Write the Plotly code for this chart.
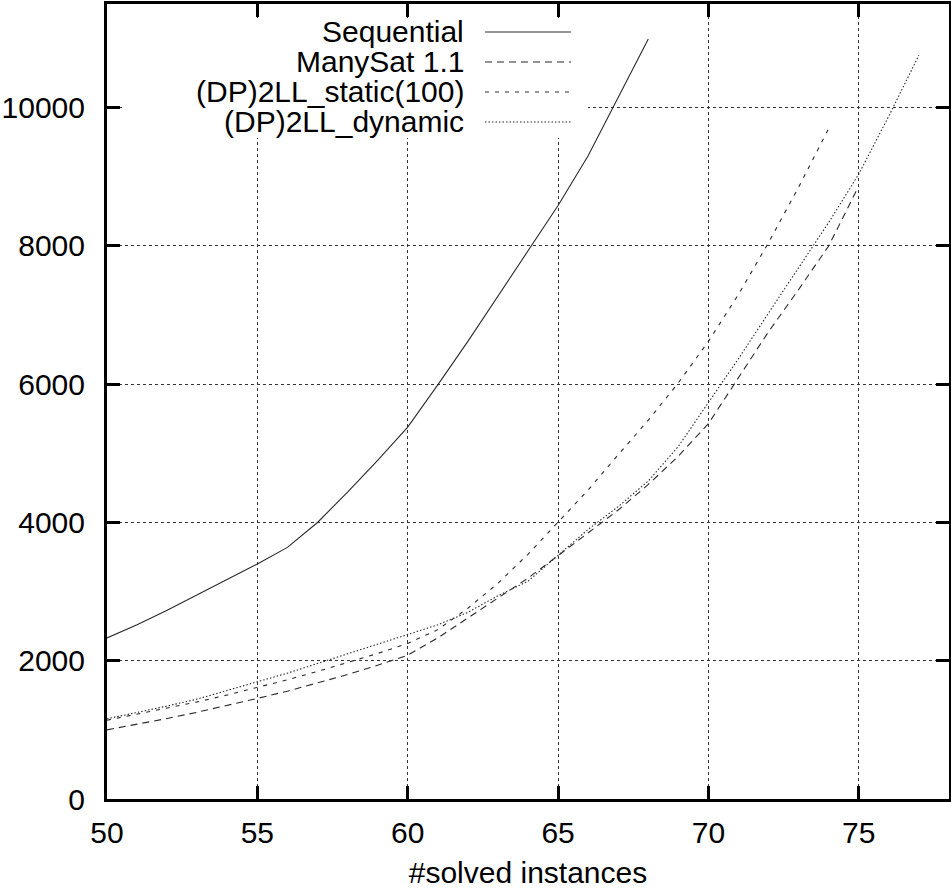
import plotly.graph_objects as go

# ---- data ----
seq_x = [50, 51, 52, 53, 54, 55, 56, 57, 58, 59, 60, 61, 62, 63, 64, 65, 66, 67, 68]
seq_y = [2330, 2520, 2730, 2950, 3170, 3400, 3640, 4000, 4440, 4900, 5380,
         5990, 6620, 7270, 7930, 8584, 9306, 10150, 10993]

many_x = [50, 51, 52, 53, 54, 55, 56, 57, 58, 59, 60, 61, 62, 63, 64, 65, 66,
          67, 68, 69, 70, 71, 72, 73, 74, 75]
many_y = [1000, 1080, 1165, 1255, 1350, 1455, 1560, 1680, 1800, 1935, 2080,
          2330, 2620, 2905, 3195, 3520, 3850, 4180, 4550, 4960, 5430, 6100,
          6760, 7370, 8000, 8870]

stat_x = [50, 51, 52, 53, 54, 55, 56, 57, 58, 59, 60, 61, 62, 63, 64, 65, 66,
          67, 68, 69, 70, 71, 72, 73, 74]
stat_y = [1140, 1225, 1310, 1405, 1505, 1614, 1725, 1845, 1970, 2105, 2250,
          2450, 2760, 3120, 3540, 4000, 4470, 4980, 5480, 6020, 6620, 7300,
          8050, 8850, 9700]

dyn_x = [50, 51, 52, 53, 54, 55, 56, 57, 58, 59, 60, 61, 62, 63, 64, 65, 66,
         67, 68, 69, 70, 71, 72, 73, 74, 75, 76, 77]
dyn_y = [1160, 1250, 1345, 1445, 1565, 1696, 1820, 1960, 2090, 2230, 2370,
         2520, 2700, 2940, 3150, 3530, 3900, 4230, 4600, 5100, 5740, 6370,
         7030, 7680, 8340, 9040, 9880, 10760]

names = ["Sequential", "ManySat 1.1", "(DP)2LL_static(100)", "(DP)2LL_dynamic"]
dashes = ["solid", "7px,5px", "4px,6px", "1.5px,2px"]

x_ticks = [50, 55, 60, 65, 70, 75]
y_ticks = [0, 2000, 4000, 6000, 8000, 10000]
y_tick_text = ["0", "2000", "4000", "6000", "8000", "10000"]

FONT = "Liberation Sans, Arial, sans-serif"
FS = 30
LINE_COLOR = "#2a2a2a"

# plot area in pixels
L, R, T, B = 107, 949, 4, 799
W, H = 951, 890


def px(x):
    return (x - L) / (R - L)


def py(y):
    return (B - y) / (B - T)


fig = go.Figure()
series = [(seq_x, seq_y), (many_x, many_y), (stat_x, stat_y), (dyn_x, dyn_y)]
for (xs, ys), n, d in zip(series, names, dashes):
    fig.add_trace(go.Scatter(x=xs, y=ys, mode="lines", name=n, showlegend=False,
                             line=dict(color=LINE_COLOR, width=1.1, dash=d)))

shapes = [dict(type="rect", xref="paper", yref="paper", layer="above",
               x0=px(123), x1=px(588), y0=py(138), y1=py(18),
               fillcolor="white", line=dict(width=0))]
annotations = []
rows = [32, 62, 92, 122]
for n, d, ry in zip(names, dashes, rows):
    shapes.append(dict(type="line", xref="paper", yref="paper", layer="above",
                       x0=px(485), x1=px(571), y0=py(ry), y1=py(ry),
                       line=dict(color=LINE_COLOR, width=1.1, dash=d)))
    annotations.append(dict(xref="paper", yref="paper", x=px(466), y=py(ry),
                            xanchor="right", yanchor="middle", showarrow=False,
                            text=n, font=dict(family=FONT, size=FS, color="black")))

axis_common = dict(showline=True, linecolor="black", linewidth=3, mirror="ticks",
                   ticks="inside", ticklen=13, tickwidth=3, tickcolor="black",
                   showgrid=True, gridcolor="#333", gridwidth=1, griddash="3px,3px",
                   zeroline=False, tickfont=dict(family=FONT, size=FS, color="black"))

fig.update_layout(
    width=W, height=H,
    margin=dict(l=L, r=W - R, t=T, b=H - B, autoexpand=False),
    paper_bgcolor="white", plot_bgcolor="white",
    xaxis=dict(range=[50, 78], tickvals=x_ticks, ticklabelstandoff=5,
               title=dict(text="#solved instances", standoff=14,
                          font=dict(family=FONT, size=FS, color="black")),
               **axis_common),
    yaxis=dict(range=[0, 11500], tickvals=y_ticks, ticktext=y_tick_text,
               ticklabelstandoff=13, **axis_common),
    shapes=shapes, annotations=annotations, showlegend=False,
)

fig.write_html("out.html")
